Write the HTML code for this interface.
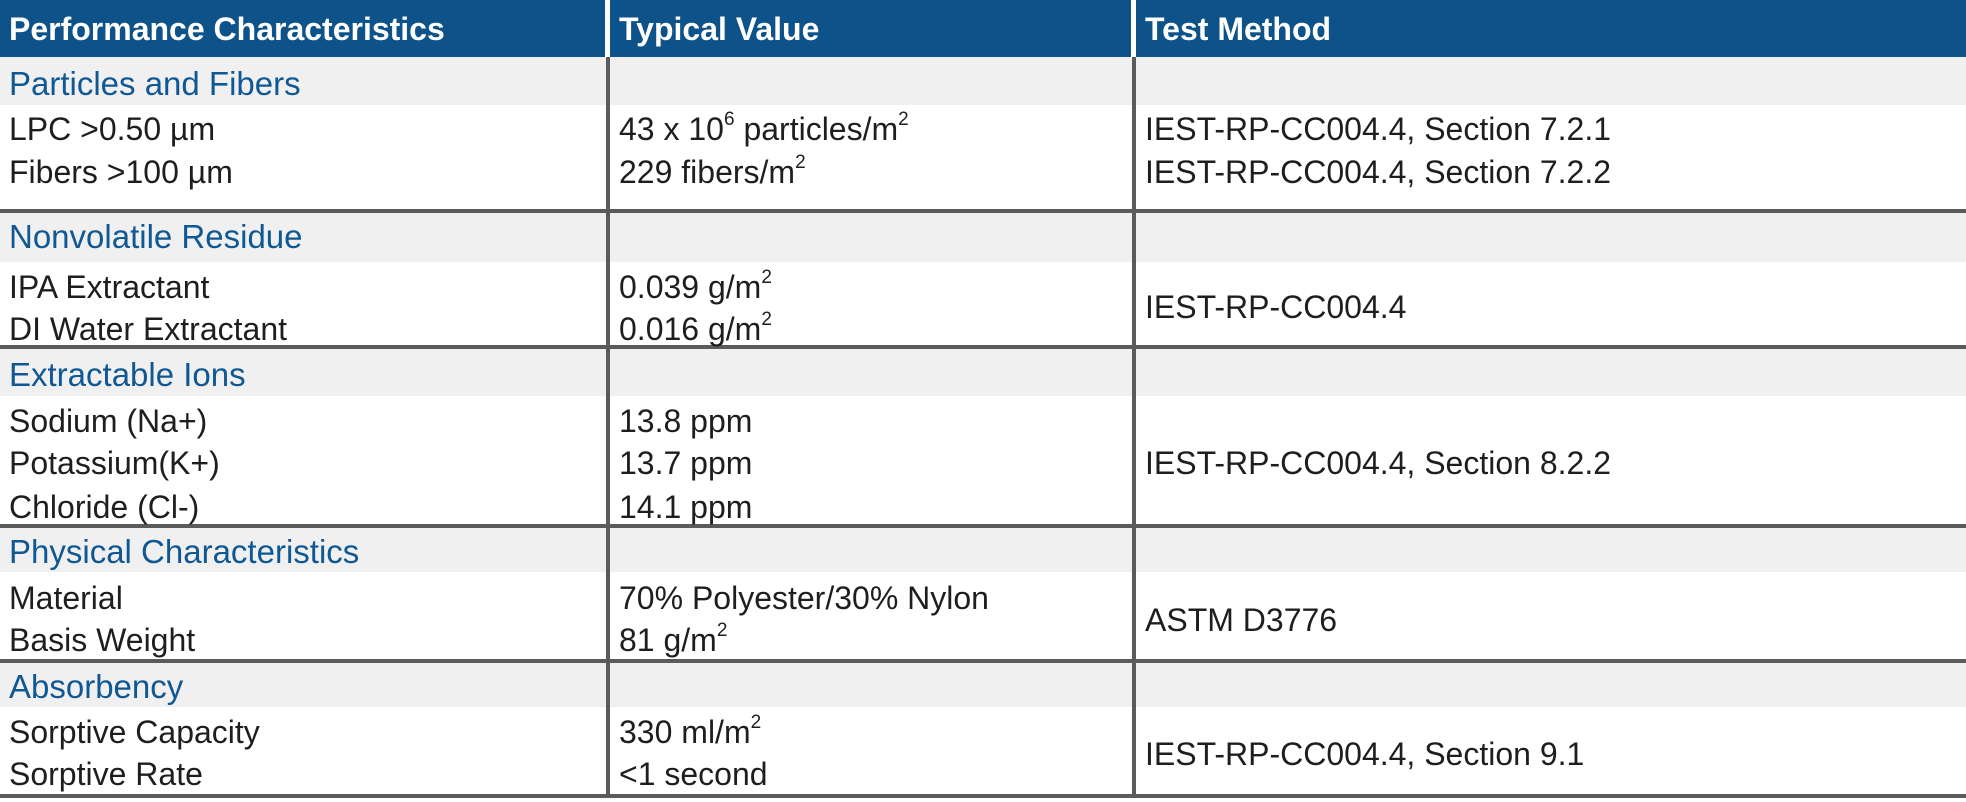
<!DOCTYPE html>
<html><head><meta charset="utf-8"><style>
body{margin:0;width:1966px;height:802px;background:#fff;position:relative;overflow:hidden;font-family:"Liberation Sans",sans-serif}
.a{position:absolute}
.t{position:absolute;height:36px;line-height:36px;font-size:32px;color:#1e1e1e;white-space:nowrap}
.h{color:#fff;font-weight:bold;font-size:32px}
.s{color:#105894;font-size:33px}
.g{position:absolute;left:0;width:1966px;background:#f0f0f0}
.hl{position:absolute;left:0;width:1966px;height:4px;background:#5b5b5b}
sup{font-size:19px;line-height:0;position:relative;top:-3px}
</style></head><body>
<div class="a" style="left:0;top:0;width:1966px;height:57px;background:#0d5289"></div>
<div class="a" style="left:605px;top:0;width:5px;height:57px;background:#fff"></div>
<div class="a" style="left:1131px;top:0;width:5px;height:57px;background:#fff"></div>
<div class="g" style="top:57px;height:48px"></div>
<div class="g" style="top:213px;height:49px"></div>
<div class="g" style="top:349px;height:47px"></div>
<div class="g" style="top:528px;height:44px"></div>
<div class="g" style="top:663px;height:44px"></div>
<div class="hl" style="top:209px"></div>
<div class="hl" style="top:345px"></div>
<div class="hl" style="top:524px"></div>
<div class="hl" style="top:659px"></div>
<div class="hl" style="top:794px"></div>
<div class="a" style="left:606px;top:57px;width:4px;height:741px;background:#5b5b5b"></div>
<div class="a" style="left:1132px;top:57px;width:4px;height:741px;background:#5b5b5b"></div>

<div class="t h" style="left:9px;top:11px">Performance Characteristics</div>
<div class="t h" style="left:619px;top:11px">Typical Value</div>
<div class="t h" style="left:1145px;top:11px">Test Method</div>

<div class="t s" style="left:9px;top:66px">Particles and Fibers</div>
<div class="t" style="left:9px;top:111px">LPC &gt;0.50 µm</div>
<div class="t" style="left:9px;top:154px">Fibers &gt;100 µm</div>
<div class="t" style="left:619px;top:111px">43 x 10<sup>6</sup> particles/m<sup>2</sup></div>
<div class="t" style="left:619px;top:154px">229 fibers/m<sup>2</sup></div>
<div class="t" style="left:1145px;top:111px">IEST-RP-CC004.4, Section 7.2.1</div>
<div class="t" style="left:1145px;top:154px">IEST-RP-CC004.4, Section 7.2.2</div>

<div class="t s" style="left:9px;top:219px">Nonvolatile Residue</div>
<div class="t" style="left:9px;top:269px">IPA Extractant</div>
<div class="t" style="left:9px;top:311px">DI Water Extractant</div>
<div class="t" style="left:619px;top:269px">0.039 g/m<sup>2</sup></div>
<div class="t" style="left:619px;top:311px">0.016 g/m<sup>2</sup></div>
<div class="t" style="left:1145px;top:289px">IEST-RP-CC004.4</div>

<div class="t s" style="left:9px;top:357px">Extractable Ions</div>
<div class="t" style="left:9px;top:403px">Sodium (Na+)</div>
<div class="t" style="left:9px;top:445px">Potassium(K+)</div>
<div class="t" style="left:9px;top:489px">Chloride (Cl-)</div>
<div class="t" style="left:619px;top:403px">13.8 ppm</div>
<div class="t" style="left:619px;top:445px">13.7 ppm</div>
<div class="t" style="left:619px;top:489px">14.1 ppm</div>
<div class="t" style="left:1145px;top:445px">IEST-RP-CC004.4, Section 8.2.2</div>

<div class="t s" style="left:9px;top:534px">Physical Characteristics</div>
<div class="t" style="left:9px;top:580px">Material</div>
<div class="t" style="left:9px;top:622px">Basis Weight</div>
<div class="t" style="left:619px;top:580px">70% Polyester/30% Nylon</div>
<div class="t" style="left:619px;top:622px">81 g/m<sup>2</sup></div>
<div class="t" style="left:1145px;top:602px">ASTM D3776</div>

<div class="t s" style="left:9px;top:669px">Absorbency</div>
<div class="t" style="left:9px;top:714px">Sorptive Capacity</div>
<div class="t" style="left:9px;top:756px">Sorptive Rate</div>
<div class="t" style="left:619px;top:714px">330 ml/m<sup>2</sup></div>
<div class="t" style="left:619px;top:756px">&lt;1 second</div>
<div class="t" style="left:1145px;top:736px">IEST-RP-CC004.4, Section 9.1</div>
</body></html>
